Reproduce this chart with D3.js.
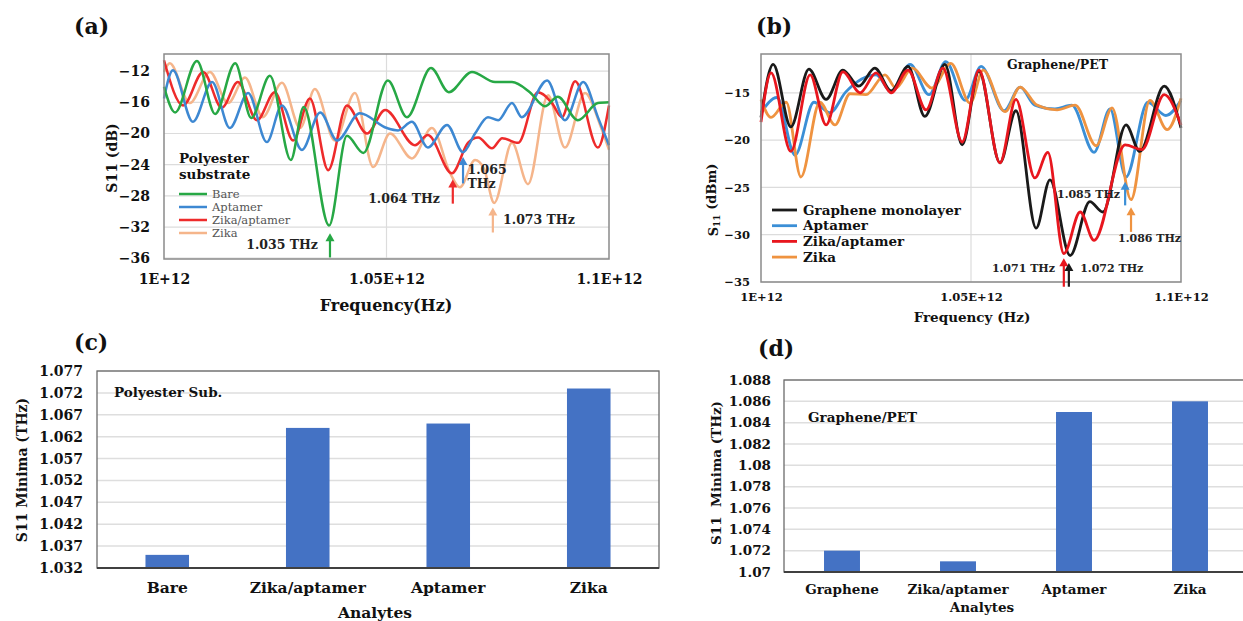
<!DOCTYPE html>
<html>
<head>
<meta charset="utf-8">
<script src="https://cdn.jsdelivr.net/npm/d3@7"></script>
<style>
    body { margin: 0; background: #fff; }
    svg { display: block; font-family: "DejaVu Serif", "Liberation Serif", serif; font-weight: bold; }
</style>
</head>
<body>
<svg id="fig" width="1243" height="621"></svg>
<script>
// ---------- data ----------
// panel (a): polyester substrate, points are [frequency (THz), S11 (dB)]
let polyBare = [[1.0000,-14.0],[1.0025,-17.3],[1.0074,-10.7],[1.0115,-17.5],[1.0160,-11.0],[1.0196,-18.0],
    [1.0238,-12.6],[1.0285,-23.4],[1.0314,-16.6],[1.0371,-31.8],[1.0411,-20.3],[1.0448,-22.5],[1.0503,-13.2],
    [1.0546,-17.9],[1.0600,-11.6],[1.0640,-14.7],[1.0692,-12.1],[1.0744,-13.4],[1.0782,-13.4],[1.0822,-14.7],
    [1.0856,-16.5],[1.0885,-15.3],[1.0930,-18.3],[1.0975,-16.1],[1.1000,-16.0]];
let polyAptamer = [[1.0000,-15.5],[1.0020,-11.9],[1.0065,-18.5],[1.0108,-13.4],[1.0148,-19.3],[1.0189,-14.8],
    [1.0231,-21.1],[1.0265,-16.4],[1.0310,-22.1],[1.0351,-17.3],[1.0389,-20.9],[1.0440,-17.4],[1.0501,-19.3],
    [1.0526,-19.6],[1.0557,-18.5],[1.0593,-21.8],[1.0636,-18.9],[1.0672,-22.4],[1.0699,-20.0],[1.0728,-17.9],
    [1.0751,-18.3],[1.0782,-16.1],[1.0804,-17.9],[1.0861,-13.2],[1.0901,-18.3],[1.0942,-13.4],[1.0975,-17.9],
    [1.1000,-21.5]];
let polyZikaAptamer = [[1.0000,-10.6],[1.0043,-16.4],[1.0088,-12.1],[1.0130,-16.7],[1.0166,-13.4],[1.0209,-18.3],
    [1.0249,-14.7],[1.0290,-20.9],[1.0328,-15.5],[1.0369,-24.7],[1.0411,-16.4],[1.0456,-20.0],[1.0497,-17.0],
    [1.0564,-21.5],[1.0593,-20.2],[1.0647,-25.1],[1.0683,-21.2],[1.0706,-20.5],[1.0737,-21.9],[1.0760,-20.6],
    [1.0796,-21.2],[1.0840,-14.7],[1.0872,-16.1],[1.0894,-17.9],[1.0924,-13.3],[1.0975,-21.8],[1.1000,-16.4]];
let polyZika = [[1.0000,-12.1],[1.0013,-11.0],[1.0058,-16.1],[1.0103,-12.1],[1.0144,-16.1],[1.0182,-12.8],
    [1.0222,-17.9],[1.0265,-13.5],[1.0306,-19.3],[1.0339,-14.3],[1.0384,-20.9],[1.0429,-14.8],[1.0470,-24.3],
    [1.0508,-20.0],[1.0557,-23.2],[1.0602,-19.3],[1.0643,-25.1],[1.0665,-26.9],[1.0699,-23.4],[1.0719,-24.5],
    [1.0742,-28.9],[1.0782,-21.2],[1.0818,-26.5],[1.0863,-15.1],[1.0901,-21.8],[1.0946,-14.8],[1.0980,-18.9],
    [1.1000,-22.1]];

// panel (b): graphene / PET, [frequency (THz), S11 (dBm)]
let graphMono = [[1.0000,-17.6],[1.0029,-12.0],[1.0071,-18.6],[1.0114,-12.5],[1.0155,-15.7],[1.0195,-12.6],
    [1.0233,-14.3],[1.0271,-12.4],[1.0310,-14.8],[1.0350,-12.2],[1.0390,-17.5],[1.0438,-12.0],[1.0479,-20.5],
    [1.0519,-12.7],[1.0569,-22.4],[1.0607,-16.9],[1.0655,-29.3],[1.0688,-24.2],[1.0736,-32.2],[1.0783,-26.5],
    [1.0814,-27.6],[1.0869,-18.4],[1.0902,-21.2],[1.0960,-14.3],[1.1000,-18.7]];
let graphAptamer = [[1.0000,-17.1],[1.0038,-15.5],[1.0081,-21.6],[1.0126,-16.0],[1.0164,-17.1],[1.0202,-14.9],
    [1.0274,-13.1],[1.0310,-14.9],[1.0355,-12.0],[1.0400,-15.2],[1.0440,-11.7],[1.0486,-15.8],[1.0524,-12.2],
    [1.0579,-16.9],[1.0617,-14.4],[1.0652,-16.3],[1.0700,-16.7],[1.0740,-16.3],[1.0793,-21.3],[1.0831,-16.7],
    [1.0869,-23.9],[1.0921,-16.0],[1.0964,-17.4],[1.1000,-15.8]];
let graphZikaAptamer = [[1.0000,-18.1],[1.0024,-12.9],[1.0071,-21.2],[1.0117,-13.1],[1.0155,-18.4],[1.0195,-12.8],
    [1.0236,-15.0],[1.0274,-12.9],[1.0310,-15.0],[1.0350,-12.6],[1.0393,-16.8],[1.0433,-12.4],[1.0479,-20.2],
    [1.0519,-12.6],[1.0569,-22.4],[1.0607,-15.7],[1.0652,-24.0],[1.0683,-21.3],[1.0721,-32.0],[1.0760,-27.6],
    [1.0793,-30.6],[1.0867,-20.5],[1.0907,-21.0],[1.0960,-15.2],[1.1000,-18.4]];
let graphZika = [[1.0000,-15.7],[1.0024,-17.6],[1.0060,-16.0],[1.0095,-23.9],[1.0140,-16.0],[1.0176,-18.4],
    [1.0212,-15.1],[1.0250,-15.2],[1.0295,-13.1],[1.0321,-14.5],[1.0360,-12.4],[1.0407,-14.5],[1.0452,-11.9],
    [1.0498,-16.1],[1.0529,-12.6],[1.0581,-17.0],[1.0617,-14.4],[1.0657,-16.3],[1.0705,-16.8],[1.0748,-16.3],
    [1.0798,-20.6],[1.0836,-16.6],[1.0881,-26.3],[1.0926,-15.8],[1.0967,-18.9],[1.1000,-15.6]];

let freqTicks = [1.0, 1.05, 1.1];
let freqLabels = ["1E+12", "1.05E+12", "1.1E+12"];
let polyDbTicks = [-12, -16, -20, -24, -28, -32, -36];
let graphDbTicks = [-15, -20, -25, -30, -35];

// panels (c) and (d): S11 minima per analyte (THz)
let polyCategories = ["Bare", "Zika/aptamer", "Aptamer", "Zika"];
let polyMinima = [1.035, 1.064, 1.065, 1.073];
let polyMinTicks = [1.032, 1.037, 1.042, 1.047, 1.052, 1.057, 1.062, 1.067, 1.072, 1.077];
let graphCategories = ["Graphene", "Zika/aptamer", "Aptamer", "Zika"];
let graphMinima = [1.072, 1.071, 1.085, 1.086];
let graphMinTicks = [1.07, 1.072, 1.074, 1.076, 1.078, 1.08, 1.082, 1.084, 1.086, 1.088];

// ---------- drawing ----------
let svg = d3.select("#fig");

// d3 axes put a sans-serif font on their group, take it back to the page font
function serifAxis(sel, size) {
    sel.attr("font-family", null).attr("font-size", null);
    sel.select(".domain").remove();
    sel.selectAll("text").attr("font-size", size).attr("fill", "#111");
}

/**
 * Frame, grid, axes and spectra of one S11 panel
 */
function spectrumPanel(p) {
    let g = svg.append("g");
    let x = d3.scaleLinear().domain([1.0, 1.1]).range([p.left, p.right]);
    let y = d3.scaleLinear().domain(p.yDomain).range([p.bottom, p.top]);

    g.selectAll(".hgrid").data(p.yTicks).enter().append("line")
        .attr("x1", p.left).attr("x2", p.right)
        .attr("y1", d => y(d)).attr("y2", d => y(d))
        .attr("stroke", "#dcdcdc").attr("stroke-width", 1.2);
    g.append("line")
        .attr("x1", x(1.05)).attr("x2", x(1.05))
        .attr("y1", p.top).attr("y2", p.bottom)
        .attr("stroke", "#dcdcdc").attr("stroke-width", 1.2);

    let yAxis = d3.axisLeft(y).tickValues(p.yTicks).tickSize(0).tickPadding(p.yPad);
    g.append("g").attr("transform", `translate(${p.left},0)`).call(yAxis)
        .call(s => serifAxis(s, p.tickSize));

    let xAxis = d3.axisBottom(x).tickValues(freqTicks).tickFormat((d, i) => freqLabels[i])
        .tickSize(0).tickPadding(p.xPad);
    g.append("g").attr("transform", `translate(0,${p.bottom})`).call(xAxis)
        .call(s => serifAxis(s, p.tickSize))
        .selectAll("text").attr("dy", "0.35em");

    let line = d3.line()
        .x(d => x(d[0]))
        .y(d => y(d[1]))
        .curve(d3.curveMonotoneX);
    for (let s of p.series) {
        g.append("path").attr("d", line(s.data))
            .attr("fill", "none").attr("stroke", s.color)
            .attr("stroke-width", p.lineWidth).attr("stroke-linejoin", "round");
    }

    g.append("rect")
        .attr("x", p.left).attr("y", p.top)
        .attr("width", p.right - p.left).attr("height", p.bottom - p.top)
        .attr("fill", "none").attr("stroke", "#8a8a8a").attr("stroke-width", 1.5);

    // arrows marking the minima
    for (let a of p.arrows) {
        let ax = x(a.f), y0 = y(a.from), y1 = y(a.to);
        g.append("line").attr("x1", ax).attr("x2", ax).attr("y1", y0).attr("y2", y1 + 6)
            .attr("stroke", a.color).attr("stroke-width", 2.2);
        g.append("path")
            .attr("d", `M${ax - 4.5},${y1 + 8}L${ax},${y1}L${ax + 4.5},${y1 + 8}Z`)
            .attr("fill", a.color);
    }
    for (let t of p.notes) {
        g.append("text").attr("x", x(t.f)).attr("y", y(t.db))
            .attr("dy", "0.35em").attr("text-anchor", t.anchor)
            .attr("font-size", p.noteSize).attr("fill", "#222").text(t.text);
    }
}

/**
 * One bar panel of S11 minima
 */
function barPanel(p) {
    let g = svg.append("g");
    let x = d3.scaleBand().domain(p.categories).range([p.left, p.right])
        .paddingInner(0.69).paddingOuter(0.345);
    let y = d3.scaleLinear().domain(p.yDomain).range([p.bottom, p.top]);

    g.selectAll(".hgrid").data(p.ticks).enter().append("line")
        .attr("x1", p.left).attr("x2", p.right)
        .attr("y1", d => y(d)).attr("y2", d => y(d))
        .attr("stroke", "#dedede").attr("stroke-width", 1.5);

    g.selectAll(".bar").data(p.values).enter().append("rect")
        .attr("x", (d, i) => x(p.categories[i]))
        .attr("y", d => y(d))
        .attr("width", x.bandwidth())
        .attr("height", d => p.bottom - y(d))
        .attr("fill", "#4472c4");

    g.append("rect")
        .attr("x", p.left).attr("y", p.top)
        .attr("width", p.right - p.left).attr("height", p.bottom - p.top)
        .attr("fill", "none").attr("stroke", "#6b6b6b").attr("stroke-width", 1.3);
    g.append("line")
        .attr("x1", p.left).attr("x2", p.right)
        .attr("y1", p.bottom).attr("y2", p.bottom)
        .attr("stroke", "#404040").attr("stroke-width", 2);

    let yAxis = d3.axisLeft(y).tickValues(p.ticks).tickSize(0).tickPadding(p.yPad)
        .tickFormat(d => String(+d.toFixed(3)));
    g.append("g").attr("transform", `translate(${p.left},0)`).call(yAxis)
        .call(s => serifAxis(s, p.tickSize));

    let xAxis = d3.axisBottom(x).tickSize(0).tickPadding(p.xPad);
    g.append("g").attr("transform", `translate(0,${p.bottom})`).call(xAxis)
        .call(s => serifAxis(s, p.catSize))
        .selectAll("text").attr("dy", "0.35em");
}

// panel (a)
spectrumPanel({
    left: 164, right: 609, top: 54, bottom: 259,
    yDomain: [-36.1, -9.8], yTicks: polyDbTicks, yPad: 14, xPad: 20,
    tickSize: 14, noteSize: 12.5, lineWidth: 2.5,
    series: [
        { data: polyZika, color: "#f5b58b" },
        { data: polyZikaAptamer, color: "#ee2b2b" },
        { data: polyAptamer, color: "#3d88d2" },
        { data: polyBare, color: "#27a845" }
    ],
    arrows: [
        { f: 1.0373, from: -35.9, to: -32.8, color: "#27a845" },
        { f: 1.0649, from: -29.0, to: -25.9, color: "#ee2b2b" },
        { f: 1.0672, from: -26.4, to: -23.0, color: "#3d88d2" },
        { f: 1.0739, from: -32.7, to: -29.5, color: "#f5b58b" }
    ],
    notes: [
        { f: 1.0346, db: -34.2, text: "1.035 THz", anchor: "end" },
        { f: 1.0620, db: -28.3, text: "1.064 THz", anchor: "end" },
        { f: 1.0682, db: -24.6, text: "1.065", anchor: "start" },
        { f: 1.0682, db: -26.4, text: "THz", anchor: "start" },
        { f: 1.0762, db: -31.1, text: "1.073 THz", anchor: "start" }
    ]
});

// panel (b)
spectrumPanel({
    left: 761, right: 1181, top: 54, bottom: 282,
    yDomain: [-35, -10.9], yTicks: graphDbTicks, yPad: 11, xPad: 15,
    tickSize: 11.5, noteSize: 11, lineWidth: 2.8,
    series: [
        { data: graphAptamer, color: "#3b8fd6" },
        { data: graphZika, color: "#ef9340" },
        { data: graphMono, color: "#1a1a1a" },
        { data: graphZikaAptamer, color: "#e8161e" }
    ],
    arrows: [
        { f: 1.0867, from: -26.9, to: -24.4, color: "#3b8fd6" },
        { f: 1.0881, from: -29.7, to: -27.1, color: "#ef9340" },
        { f: 1.0721, from: -35.5, to: -32.5, color: "#e8161e" },
        { f: 1.0733, from: -35.5, to: -33.0, color: "#1a1a1a" }
    ],
    notes: [
        { f: 1.0855, db: -25.7, text: "1.085 THz", anchor: "end" },
        { f: 1.0850, db: -30.4, text: "1.086 THz", anchor: "start" },
        { f: 1.0700, db: -33.5, text: "1.071 THz", anchor: "end" },
        { f: 1.0760, db: -33.5, text: "1.072 THz", anchor: "start" }
    ]
});

// panel (c)
barPanel({
    left: 97, right: 659, top: 371, bottom: 568,
    yDomain: [1.032, 1.077], ticks: polyMinTicks,
    categories: polyCategories, values: polyMinima,
    yPad: 14, xPad: 20, tickSize: 14, catSize: 15.5
});

// panel (d)
barPanel({
    left: 784, right: 1248, top: 380, bottom: 572,
    yDomain: [1.07, 1.088], ticks: graphMinTicks,
    categories: graphCategories, values: graphMinima,
    yPad: 13, xPad: 17, tickSize: 13.5, catSize: 13.5
});

// ---------- titles, legends, labels ----------
function label(x, y, text, size, opts) {
    opts = opts || {};
    let t = svg.append("text").attr("x", x).attr("y", y)
        .attr("font-size", size).attr("fill", opts.fill || "#111")
        .attr("text-anchor", opts.anchor || "start")
        .attr("dy", "0.35em").style("white-space", "pre");
    if (opts.weight) t.attr("font-weight", opts.weight);
    if (opts.rotate) t.attr("transform", `rotate(-90,${x},${y})`);
    t.text(text);
    return t;
}

label(74, 26, "(a)", 22);
label(756, 26, "(b)", 22);
label(74, 342, "(c)", 22);
label(758, 348, "(d)", 22);

label(386, 305, "Frequency(Hz)", 16, { anchor: "middle" });
label(112, 158, "S11 (dB)", 14, { anchor: "middle", rotate: true });
label(972, 317, "Frequency (Hz)", 13.5, { anchor: "middle" });
let sLabel = label(713, 200, "S", 13, { anchor: "middle", rotate: true });
sLabel.append("tspan").attr("font-size", 9).attr("dy", "0.3em").text("11");
sLabel.append("tspan").attr("dy", "-0.3em").text(" (dBm)");

label(22, 470, "S11 Minima (THz)", 14, { anchor: "middle", rotate: true });
label(375, 613, "Analytes", 15.5, { anchor: "middle" });
label(114, 392, "Polyester Sub.", 13.5);
label(716, 473, "S11  Minima (THz)", 13.5, { anchor: "middle", rotate: true });
label(982, 607, "Analytes", 13.5, { anchor: "middle" });
label(808, 417, "Graphene/PET", 13.5);
label(1007, 65, "Graphene/PET", 12.5);

// legend (a)
label(179, 158, "Polyester", 13.5);
label(179, 174, "substrate", 13.5);
let polyLegend = [["Bare", "#27a845"], ["Aptamer", "#3d88d2"], ["Zika/aptamer", "#ee2b2b"], ["Zika", "#f5b58b"]];
polyLegend.forEach((d, i) => {
    let yy = 194 + i * 13;
    svg.append("line").attr("x1", 179).attr("x2", 207).attr("y1", yy).attr("y2", yy)
        .attr("stroke", d[1]).attr("stroke-width", 2.5);
    label(212, yy, d[0], 11.5, { weight: "normal", fill: "#555" });
});

// legend (b)
let graphLegend = [["Graphene monolayer", "#1a1a1a"], ["Aptamer", "#3b8fd6"], ["Zika/aptamer", "#e8161e"], ["Zika", "#ef9340"]];
graphLegend.forEach((d, i) => {
    let yy = 210 + i * 15.7;
    svg.append("line").attr("x1", 772).attr("x2", 797).attr("y1", yy).attr("y2", yy)
        .attr("stroke", d[1]).attr("stroke-width", 2.8);
    label(803, yy, d[0], 13.5);
});
</script>
</body>
</html>
